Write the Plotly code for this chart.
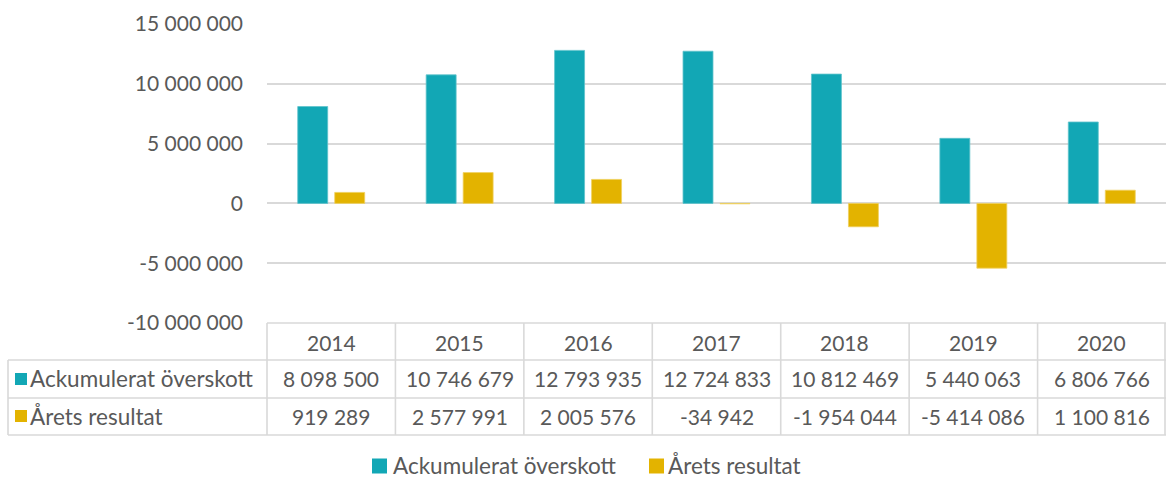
import plotly.graph_objects as go

years = ["2014", "2015", "2016", "2017", "2018", "2019", "2020"]
ackumulerat = [8098500, 10746679, 12793935, 12724833, 10812469, 5440063, 6806766]
arets = [919289, 2577991, 2005576, -34942, -1954044, -5414086, 1100816]
series_names = ["Ackumulerat överskott", "Årets resultat"]
tick_vals = [-10000000, -5000000, 0, 5000000, 10000000, 15000000]

TEAL = "#12A7B5"
GOLD = "#E3B300"
TXT = "#595959"
GRID = "#D9D9D9"
FONT = "Lato"
FS = 21
FS_WORD = 22.5

W, H = 1166, 481
L, R, T, B = 267, 0, 24, 158
PW = W - L - R
PH = H - T - B


def fmt(v):
    return f"{v:,}".replace(",", " ")


def px(x):
    return (x - L) / PW


def py(y):
    return (H - B - y) / PH


fig = go.Figure()
fig.add_trace(go.Bar(x=years, y=ackumulerat, name=series_names[0],
                     marker=dict(color=TEAL, line=dict(color="#5FC3CC", width=0.8))))
fig.add_trace(go.Bar(x=years, y=arets, name=series_names[1],
                     marker=dict(color=GOLD, line=dict(color="#F0D060", width=0.8))))

shapes = []
annotations = []
line = dict(color=GRID, width=1.6)
font = dict(size=FS, color=TXT, family=FONT)
wfont = dict(size=FS_WORD, color=TXT, family=FONT)

row_tops = [323, 360, 398, 435]
col_w = PW / len(years)
shapes.append(dict(type="line", xref="paper", yref="paper", x0=px(L), x1=px(W), y0=py(323), y1=py(323), line=line))
for yy in row_tops[1:]:
    shapes.append(dict(type="line", xref="paper", yref="paper", x0=px(8), x1=px(W), y0=py(yy), y1=py(yy), line=line))
shapes.append(dict(type="line", xref="paper", yref="paper", x0=px(8), x1=px(8), y0=py(360), y1=py(435), line=line))
for i in range(len(years) + 1):
    xx = L + i * col_w
    if i == len(years):
        xx = W - 1
    shapes.append(dict(type="line", xref="paper", yref="paper", x0=px(xx), x1=px(xx), y0=py(323), y1=py(435), line=line))

for i, yr in enumerate(years):
    cx = L + (i + 0.5) * col_w
    annotations.append(dict(xref="paper", yref="paper", x=px(cx), y=py(342), text=yr, showarrow=False,
                            xanchor="center", yanchor="middle", font=font))
rows = [ackumulerat, arets]
colors = [TEAL, GOLD]
row_mid = [379, 416]
for r, vals in enumerate(rows):
    for i, v in enumerate(vals):
        cx = L + (i + 0.5) * col_w
        annotations.append(dict(xref="paper", yref="paper", x=px(cx), y=py(row_mid[r]), text=fmt(v), showarrow=False,
                                xanchor="center", yanchor="middle", font=font))
    shapes.append(dict(type="rect", xref="paper", yref="paper", x0=px(15), x1=px(27),
                       y0=py(row_mid[r] + 6), y1=py(row_mid[r] - 6), fillcolor=colors[r], line=dict(width=0)))
    annotations.append(dict(xref="paper", yref="paper", x=px(28), y=py(row_mid[r]), text=series_names[r], showarrow=False,
                            xanchor="left", yanchor="middle", font=wfont))

# bottom legend
leg_y = 466
leg_items = [(372, 391), (649, 666)]
for k, (sx, tx) in enumerate(leg_items):
    shapes.append(dict(type="rect", xref="paper", yref="paper", x0=px(sx), x1=px(sx + 15),
                       y0=py(leg_y + 7.5), y1=py(leg_y - 7.5), fillcolor=colors[k], line=dict(width=0)))
    annotations.append(dict(xref="paper", yref="paper", x=px(tx), y=py(leg_y), text=series_names[k], showarrow=False,
                            xanchor="left", yanchor="middle", font=wfont))

fig.update_layout(
    width=W, height=H,
    margin=dict(l=L, r=R, t=T, b=B, autoexpand=False),
    paper_bgcolor="white", plot_bgcolor="white",
    barmode="group", bargap=0.424, bargroupgap=0.19,
    font=dict(family=FONT, color=TXT, size=FS),
    showlegend=False,
    shapes=shapes,
    annotations=annotations,
)
fig.update_xaxes(showticklabels=False, showgrid=False, zeroline=False, showline=False, fixedrange=True)
fig.update_yaxes(range=[-10000000, 15000000], tickvals=tick_vals,
                 ticktext=[fmt(v) for v in tick_vals],
                 showgrid=True, gridcolor=GRID, gridwidth=1.6, zeroline=False, showline=False,
                 ticks="", ticklabelstandoff=23, tickfont=font)

fig.write_html("out.html", config={"displayModeBar": False},
               post_script="document.body.style.margin='0';document.body.style.padding='0';")
